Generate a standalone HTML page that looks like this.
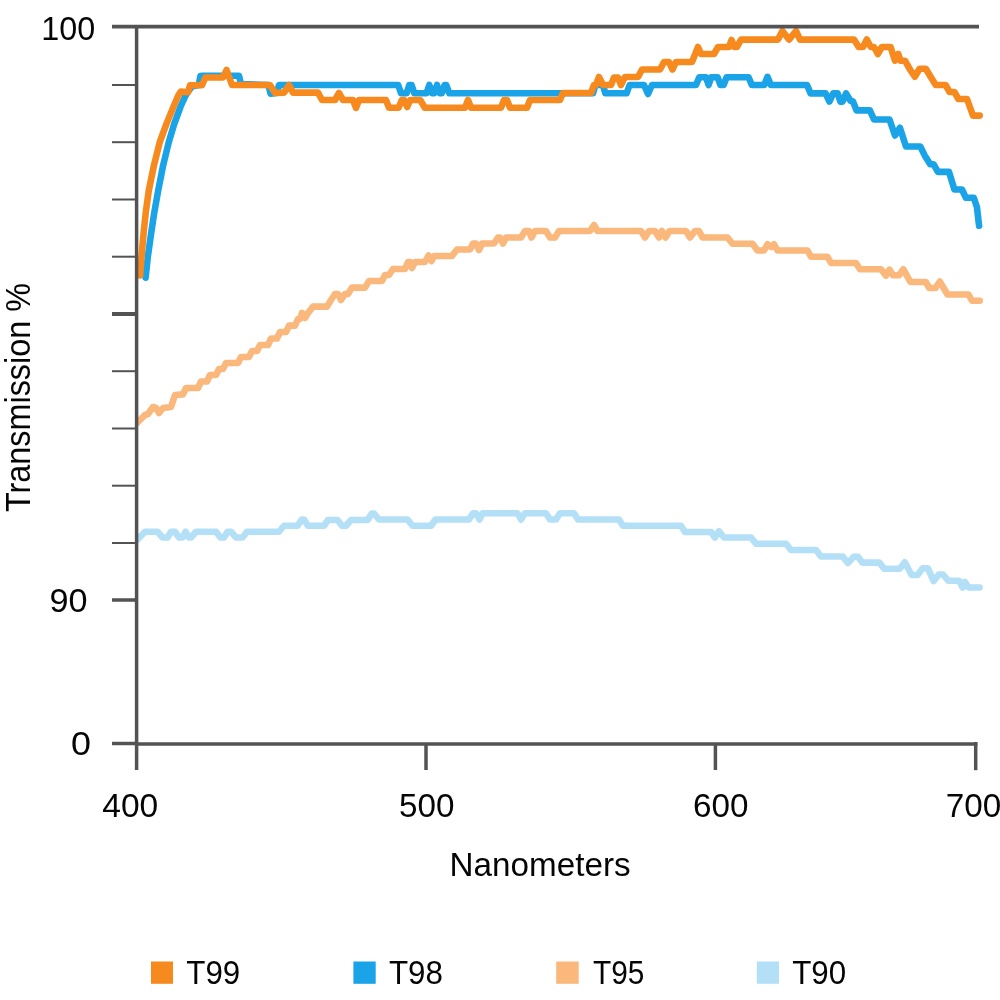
<!DOCTYPE html>
<html lang="en">
<head>
<meta charset="utf-8">
<title>Transmission chart</title>
<style>
html,body{margin:0;padding:0;background:#fff;}
body{width:1000px;height:1000px;overflow:hidden;}
svg{display:block;}
text{font-family:"Liberation Sans",sans-serif;font-size:31.7px;fill:#050505;}
text.d{font-size:33.4px;}
text.g{font-size:32.5px;}
text.n{font-size:32.6px;}
text.t{font-size:35.6px;}
.ln{fill:none;stroke-width:6.6;stroke-linejoin:round;stroke-linecap:round;}
.ax{stroke:#535354;fill:none;}
</style>
</head>
<body>
<svg width="1000" height="1000" viewBox="0 0 1000 1000">
<rect x="0" y="0" width="1000" height="1000" fill="#ffffff"/>

<!-- data -->
<defs><clipPath id="plot"><rect x="136.6" y="0" width="870" height="760"/></clipPath></defs>
<g clip-path="url(#plot)">
<polyline class="ln" stroke="#b4e0f7" points="137,540 145,531.75 157.5,531.75 162.5,537.5 167.5,537.5 171,531.75 175,531.75 179,537.5 182.5,537.5 185.5,531.75 189,537.5 191,537.5 196,531.75 216,531.75 220.5,537.5 224,537.5 227.5,531.75 231,531.75 236,537.5 242.5,537.5 247,531.75 279,531.75 284,525.75 297.5,525.75 302,519.5 304,519.5 308,525.75 324,525.75 328,520 337.5,520 342,525.75 346,525.75 351,520 367.5,520 372,513.5 374,513.5 379,519.5 407.5,519.5 412.5,525.75 431,525.75 435.5,519.5 469,519.5 473,513.25 476,513.25 479.5,519.5 482.5,513.25 517.5,513.25 521,519.5 525,513.25 546,513.25 550,519.5 556,519.5 560,513.25 574,513.25 578,519.5 619,519.5 623,525.75 681,525.75 685,532 711,532 715,537.5 719,531.25 724,537.5 751,537.5 756,543.75 786,543.75 791,550 816,550 821,556.5 842.75,556.5 847.9,563 853.8,556.7 858,556.7 862.3,562.6 879.3,562.6 884.4,568.8 899.7,568.8 904.8,562.3 911.6,575 917.6,575 922.7,568.25 927.8,568.25 933.7,581 938.8,574.5 943,574.5 948.2,580.7 959.2,580.7 962.6,587.6 965,582 968.6,587.5 979.6,587.5"/>
<polyline class="ln" stroke="#fbb87d" points="136.5,423.5 145,415 148,414 153,407 156,408 159,413 163,408 171,407 175,395 183,394.4 186,388 198,388 201,381.5 207,381.5 210,375 216,375 219,369 223,369 226,363 238,363 241,357 249,357 252,351 257,351 260,345 268,345 271,338.5 277,338.5 280,332 286,332 289,325.6 295,325.6 298,319 300,319 302,313 305,318 308,313 313,306.6 327,306.6 331,300 335,294 338,294 341,300 345,294 348,294 352,287.6 365,287.6 369,281 382,281 385,275 389,275 393,269 405,269 408,262 410,262 412,268 415,262 425,262 428.5,255.5 431.5,261 434,256 452,256 457,249.5 470,249.5 473,243.5 476,243.5 479,250 482,243.5 494,243.5 498,237.5 500,237.5 503,243.5 506,237.5 521,237.5 525,231 529,231 531.5,237.5 535,231 546,231 550,237.5 555,237.5 559,231 590,231 594,225 597.5,231 641,231 645,237.5 649,231 655,231 659,237.5 662,231 665.5,237.5 669.5,231 686,231 690,237.5 695,231 699,231 702.5,237.5 727.5,237.5 732.5,243.75 752.5,243.75 757.5,250.5 764,250.5 767.5,244.25 771,247 774,244.25 777.5,250.5 807.5,250.5 811,256.75 827.5,256.75 831,263 856,263 860,269.3 881,269.3 886,275.6 889.4,269.6 893,275.3 899,275.3 903.4,269.3 910.4,282 925.8,282 929.3,288 935.6,288 939.8,281.5 947.5,294.5 968.5,294.5 972,300.7 979.7,300.7"/>
<polyline class="ln" stroke="#1ba3e8" points="145.6,277.6 147.8,257 150.9,235 154.2,213 158.2,190.5 163,166 168.8,142 174.2,124 180.8,106 185.2,96.4 188.5,91 192,86.5 198.8,85 200.4,76 203,75.7 239,75.7 241,84 268.5,85 270.5,93.6 277,93 279,85 398.2,85 401,93.3 406.6,93.3 409.3,85 411.6,85 414.3,93.3 426.5,93.3 429.3,85 432.1,93.3 434.2,93.3 437,85 439.8,93.3 441.8,93.3 444.6,85 446.3,85 449.3,93.3 593,93.3 595.3,85 603,85 605.3,93.3 626.6,93.3 629.6,85 644,85 648,94 652,85 696,85 699.3,77.2 706,77.2 708.6,85 711.2,77.2 717.6,77.2 720.4,85 723.6,85 726.6,77.2 748.6,77.2 751.8,85 764.2,85 767.5,76.8 770.8,85 807,85 810.6,93.4 825.6,93.4 829.4,101.6 833.2,93.4 837.6,93.4 840.4,101.6 842.6,101.6 846,93.4 850.5,100.8 853,101.5 856.6,110.4 869.9,110.4 874,119.5 889.5,119.5 895,135.5 899.9,127.8 906,146.5 920.3,146.5 924.7,155.4 930.2,164.2 933.5,164.2 937.9,171.9 949,171.9 954.4,189.5 962,189.5 965.9,197.8 973.8,197.8 976.9,207 979.1,225.8"/>
<polyline class="ln" stroke="#f78a1e" points="140.1,275.5 141.5,257 143.4,235 145.7,213 148.8,190.5 153.8,166 159.8,142 166.4,124 173.8,106 178,96 180.8,91.6 188,92.3 190,85.3 202,85.3 205.4,77.5 223,77.4 226.6,70 232,85 270,85 275,93 284,92.6 289,85 293,92.6 318,92.6 322,100 335,100 339,93 343,100 353,100 356,107.8 359,100 386,100 389,107.8 398.6,107.8 401.8,100 404.2,100 407.2,107 410.2,100 420.2,100 424.8,107.8 465,107.8 468,100 471,107.8 501,107.8 504,100 507,100 510,107.8 527,107.8 530,100 560,100 563,93 591,93 594,85 596,85 599,77 603,85 611,85 614,77.5 618,77.5 621,85 625,77 638,77 642,69.5 660,69.5 664,62 669,62 672.4,69.5 676,62 692,62 698,47 701,54 714,54 718,47 729,47 731.6,40 734.4,47 737,47 741,39.6 778,39.6 782.4,31 789,39.6 796,31 800,39.6 854,39.6 858.7,47 863,47 866.8,39.5 870.8,47 874,47 877.8,54 881.8,47 890.6,47 895,60.7 898.3,54 900.5,60.7 905,60.7 910,69.5 914.8,76.8 919.6,68.8 925.8,68.8 930.6,76.8 935.7,85 945.6,85 949.6,92 954.4,92 958.4,99 967,99 973,115.6 979.7,115.6"/>
</g>

<!-- axes -->
<g class="ax" stroke-width="3.5">
  <line x1="112" y1="26.7" x2="979" y2="26.7" stroke-width="3.7"/>
  <line x1="136.6" y1="25" x2="136.6" y2="770"/>
  <line x1="112" y1="743.5" x2="138" y2="743.5"/>
  <line x1="136" y1="744.1" x2="977.4" y2="744.1"/>
  <line x1="426" y1="743" x2="426" y2="770"/>
  <line x1="715.4" y1="743" x2="715.4" y2="770"/>
  <line x1="975.7" y1="742" x2="975.7" y2="770.2"/>
  <line x1="112" y1="314" x2="137" y2="314" stroke-width="4"/>
  <line x1="112" y1="600" x2="137" y2="600" stroke-width="3.5"/>
</g>
<g class="ax" stroke-width="2">
  <line x1="112" y1="85" x2="136" y2="85"/>
  <line x1="112" y1="142.2" x2="136" y2="142.2"/>
  <line x1="112" y1="199.5" x2="136" y2="199.5"/>
  <line x1="112" y1="256.7" x2="136" y2="256.7"/>
  <line x1="112" y1="371.2" x2="136" y2="371.2"/>
  <line x1="112" y1="428.5" x2="136" y2="428.5"/>
  <line x1="112" y1="485.7" x2="136" y2="485.7"/>
  <line x1="112" y1="543" x2="136" y2="543"/>
</g>

<!-- y tick labels -->
<text class="d" x="41.2" y="39.5" textLength="54" lengthAdjust="spacingAndGlyphs">100</text>
<text class="d" x="49.6" y="612" textLength="38" lengthAdjust="spacingAndGlyphs">90</text>
<text class="d" x="71" y="754.5" textLength="20" lengthAdjust="spacingAndGlyphs">0</text>

<!-- x tick labels -->
<text class="d" x="102.3" y="817" textLength="56" lengthAdjust="spacingAndGlyphs">400</text>
<text class="d" x="399" y="817" textLength="55.5" lengthAdjust="spacingAndGlyphs">500</text>
<text class="d" x="693" y="817" textLength="55.5" lengthAdjust="spacingAndGlyphs">600</text>
<text class="d" x="945.8" y="817" textLength="55.5" lengthAdjust="spacingAndGlyphs">700</text>

<!-- axis titles -->
<text x="449.6" y="876" class="n" textLength="181" lengthAdjust="spacingAndGlyphs">Nanometers</text>
<text transform="translate(30,512) rotate(-90)" x="0" y="0" class="t" textLength="229" lengthAdjust="spacingAndGlyphs">Transmission %</text>

<!-- legend -->
<rect x="151" y="961.5" width="22" height="22.3" fill="#f78a1e"/>
<text class="g" x="186.3" y="983.5" textLength="54" lengthAdjust="spacingAndGlyphs">T99</text>
<rect x="353.4" y="961.5" width="22.3" height="22.3" fill="#1ba3e8"/>
<text class="g" x="388.9" y="983.5" textLength="54" lengthAdjust="spacingAndGlyphs">T98</text>
<rect x="556.2" y="961.5" width="22.5" height="22.3" fill="#fbb87d"/>
<text class="g" x="593" y="983.5" textLength="51.5" lengthAdjust="spacingAndGlyphs">T95</text>
<rect x="756.8" y="961.5" width="22.2" height="22.3" fill="#b4e0f7"/>
<text class="g" x="792.2" y="983.5" textLength="54" lengthAdjust="spacingAndGlyphs">T90</text>
</svg>
</body>
</html>
